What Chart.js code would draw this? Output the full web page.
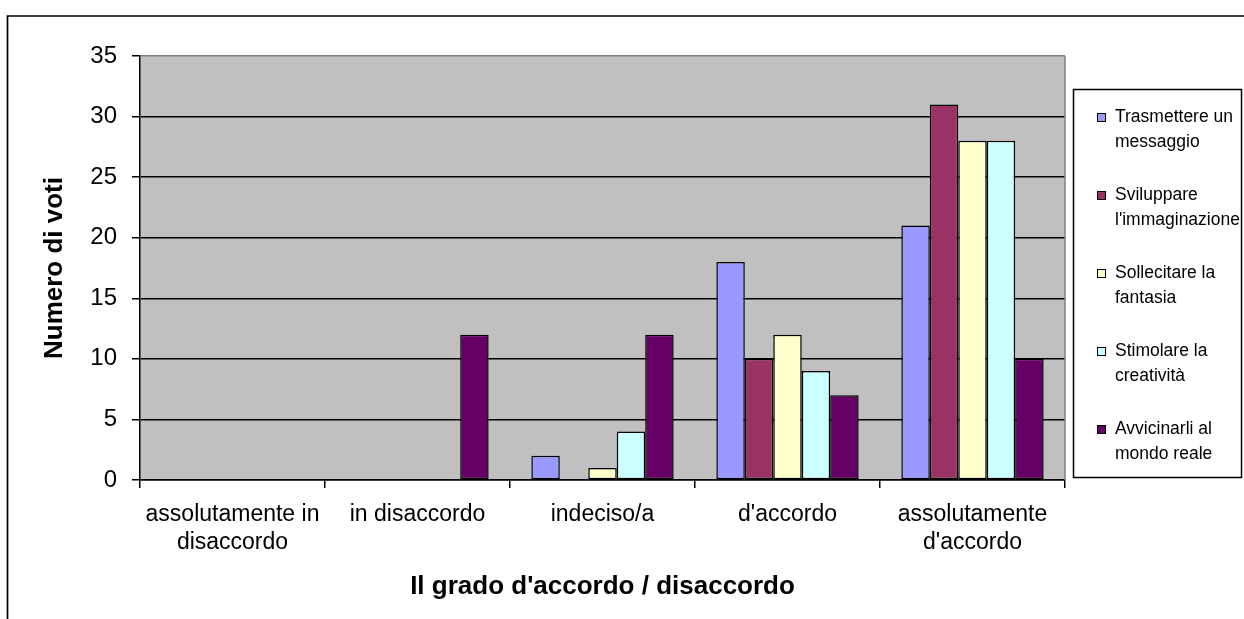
<!DOCTYPE html>
<html lang="it">
<head>
<meta charset="utf-8">
<title>Il grado d'accordo / disaccordo</title>
<script src="https://cdn.jsdelivr.net/npm/chart.js@4.4.1/dist/chart.umd.min.js"></script>
<style>
  html, body { margin: 0; padding: 0; background: #fff; }
  #contenitore { position: relative; width: 1244px; height: 619px; }
</style>
</head>
<body>
<div id="contenitore"><canvas id="graficoVoti" width="1244" height="619"></canvas></div>
<script>
// Categorie (grado d'accordo) e tacche dell'asse Y
const categorie = [['assolutamente in', 'disaccordo'], 'in disaccordo', 'indeciso/a', "d'accordo", ['assolutamente', "d'accordo"]];
const taccheY = [0, 5, 10, 15, 20, 25, 30, 35];

// Nomi delle serie (righe come nella legenda)
const serie = [
  ['Trasmettere un', 'messaggio'],
  ['Sviluppare', "l'immaginazione"],
  ['Sollecitare la', 'fantasia'],
  ['Stimolare la', 'creatività'],
  ['Avvicinarli al', 'mondo reale']
];
const colori = ['#9999FF', '#993366', '#FFFFCC', '#CCFFFF', '#660066'];

// Numero di voti per categoria
const trasmettere = [0, 0, 2, 18, 21];
const sviluppare = [0, 0, 0, 10, 31];
const sollecitare = [0, 0, 1, 12, 28];
const stimolare = [0, 0, 4, 9, 28];
const avvicinarli = [0, 12, 12, 7, 10];
const valori = [trasmettere, sviluppare, sollecitare, stimolare, avvicinarli];

const FONT = "'Liberation Sans', Arial, sans-serif";
Chart.defaults.font.family = FONT;
Chart.defaults.color = '#000';

// Sfondo grigio dell'area del grafico e cornice esterna
const sfondo = {
  id: 'sfondo',
  beforeDraw(chart) {
    const { ctx, chartArea: a } = chart;
    ctx.save();
    ctx.fillStyle = '#C0C0C0';
    ctx.fillRect(a.left, a.top, a.right - a.left, a.bottom - a.top);
    ctx.strokeStyle = '#000';
    ctx.lineWidth = 1.7;
    ctx.beginPath();
    ctx.moveTo(7.5, 625);
    ctx.lineTo(7.5, 16);
    ctx.lineTo(1250, 16);
    ctx.stroke();
    ctx.restore();
  },
  afterDatasetsDraw(chart) {
    const { ctx, chartArea: a } = chart;
    ctx.save();
    ctx.strokeStyle = '#808080';
    ctx.lineWidth = 1.5;
    ctx.beginPath();
    ctx.moveTo(a.right, a.top);
    ctx.lineTo(a.right, a.bottom);
    ctx.stroke();
    ctx.restore();
  }
};

// Legenda disegnata a mano, con testo su due righe
const legenda = {
  id: 'legenda',
  afterDraw(chart) {
    const ctx = chart.ctx;
    ctx.save();
    ctx.strokeStyle = '#000';
    ctx.lineWidth = 1.5;
    ctx.strokeRect(1073.5, 89.5, 168, 388);
    ctx.font = '17.5px ' + FONT;
    ctx.textBaseline = 'middle';
    chart.data.datasets.forEach((ds, i) => {
      const y = 117 + i * 78;
      ctx.fillStyle = ds.backgroundColor;
      ctx.fillRect(1097, y - 4, 8, 8);
      ctx.lineWidth = 1;
      ctx.strokeRect(1097.5, y - 3.5, 8, 8);
      ctx.fillStyle = '#000';
      serie[i].forEach((riga, j) => ctx.fillText(riga, 1115, y + j * 25));
    });
    ctx.restore();
  }
};

new Chart(document.getElementById('graficoVoti'), {
  type: 'bar',
  data: {
    labels: categorie,
    datasets: serie.map((nome, i) => ({
      label: nome.join(' '),
      data: valori[i],
      backgroundColor: colori[i],
      borderColor: '#000',
      borderWidth: 1.5,
      borderSkipped: false,
      barPercentage: 1,
      categoryPercentage: 5 / 6.5
    }))
  },
  options: {
    responsive: false,
    animation: false,
    layout: { padding: { top: 56, right: 179, left: 0, bottom: 0 } },
    plugins: {
      legend: { display: false },
      tooltip: { enabled: false }
    },
    scales: {
      x: {
        afterFit(scale) { scale.height = 139; },
        grid: {
          offset: true,
          drawOnChartArea: false,
          color: '#000',
          lineWidth: 1.5,
          tickLength: 8
        },
        border: { color: '#000', width: 1.5 },
        ticks: { font: { size: 23 }, padding: 13, maxRotation: 0, autoSkip: false },
        title: {
          display: true,
          text: "Il grado d'accordo / disaccordo",
          font: { size: 26, weight: 'bold' },
          padding: { top: 0, bottom: 17 }
        }
      },
      y: {
        min: 0,
        max: 35,
        afterFit(scale) { scale.width = 140; },
        afterBuildTicks(scale) { scale.ticks = taccheY.map(v => ({ value: v })); },
        grid: {
          color: c => (c.tick && c.tick.value === 35 ? '#808080' : '#000'),
          tickColor: '#000',
          lineWidth: 1.5,
          tickLength: 8
        },
        border: { color: '#000', width: 1.5 },
        ticks: { font: { size: 24 }, padding: 15 },
        title: {
          display: true,
          text: 'Numero di voti',
          font: { size: 26, weight: 'bold' },
          padding: { top: 39, bottom: 0 }
        }
      }
    }
  },
  plugins: [sfondo, legenda]
});
</script>
</body>
</html>
